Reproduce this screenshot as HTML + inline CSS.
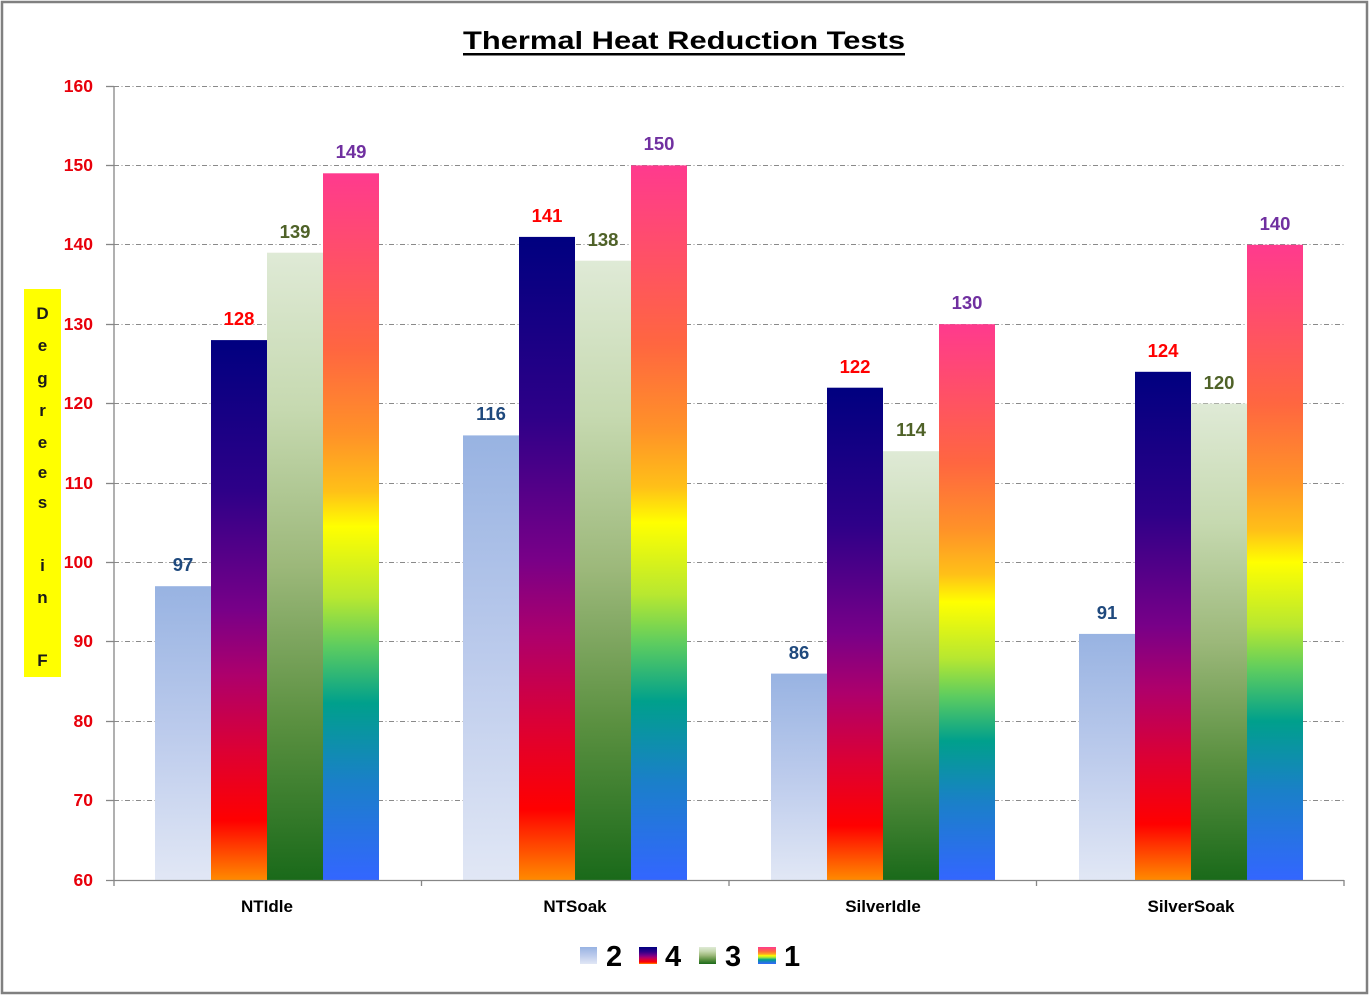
<!DOCTYPE html>
<html><head><meta charset="utf-8"><style>
html,body{margin:0;padding:0;background:#fff;}
svg{display:block;}
text{font-family:"Liberation Sans",Arial,sans-serif;font-weight:bold;}
</style></head><body>
<svg width="1369" height="995" viewBox="0 0 1369 995" xmlns="http://www.w3.org/2000/svg">
<defs>
<linearGradient id="g2" x1="0" y1="0" x2="0" y2="1">
<stop offset="0" stop-color="#98b3e2"/><stop offset="0.5" stop-color="#bccbec"/><stop offset="1" stop-color="#e1e7f5"/>
</linearGradient>
<linearGradient id="g4" x1="0" y1="0" x2="0" y2="1">
<stop offset="0" stop-color="#000080"/><stop offset="0.28" stop-color="#2e0088"/><stop offset="0.5" stop-color="#780088"/><stop offset="0.62" stop-color="#ad006c"/><stop offset="0.76" stop-color="#dc0034"/><stop offset="0.89" stop-color="#ff0000"/><stop offset="1" stop-color="#ff8a00"/>
</linearGradient>
<linearGradient id="g3" x1="0" y1="0" x2="0" y2="1">
<stop offset="0" stop-color="#dfead6"/><stop offset="0.25" stop-color="#c6d9b0"/><stop offset="0.5" stop-color="#9cb87a"/><stop offset="0.75" stop-color="#5a9040"/><stop offset="1" stop-color="#1a6a1a"/>
</linearGradient>
<linearGradient id="g1" x1="0" y1="0" x2="0" y2="1">
<stop offset="0" stop-color="#ff3a8e"/><stop offset="0.25" stop-color="#ff6640"/><stop offset="0.37" stop-color="#ff9228"/><stop offset="0.45" stop-color="#ffc018"/><stop offset="0.5" stop-color="#ffff00"/><stop offset="0.6" stop-color="#b8e830"/><stop offset="0.67" stop-color="#5ccc60"/><stop offset="0.75" stop-color="#00a08c"/><stop offset="0.86" stop-color="#1a80c8"/><stop offset="1" stop-color="#3366ff"/>
</linearGradient>
</defs>
<rect x="0" y="0" width="1369" height="995" fill="#fff"/>
<rect x="2" y="2" width="1365" height="991" fill="none" stroke="#808080" stroke-width="2.5"/>

<!-- title -->
<text x="684" y="49" font-size="25" text-anchor="middle" textLength="442" lengthAdjust="spacingAndGlyphs" fill="#000">Thermal Heat Reduction  Tests</text>
<rect x="463" y="53" width="442" height="2.5" fill="#000"/>

<!-- gridlines -->
<g stroke="#8a8a8a" stroke-width="1" stroke-dasharray="5 2.5 1 2.5">
<line x1="114" y1="86.5" x2="1344" y2="86.5"/>
<line x1="114" y1="165.5" x2="1344" y2="165.5"/>
<line x1="114" y1="244.5" x2="1344" y2="244.5"/>
<line x1="114" y1="324.5" x2="1344" y2="324.5"/>
<line x1="114" y1="403.5" x2="1344" y2="403.5"/>
<line x1="114" y1="483.5" x2="1344" y2="483.5"/>
<line x1="114" y1="562.5" x2="1344" y2="562.5"/>
<line x1="114" y1="641.5" x2="1344" y2="641.5"/>
<line x1="114" y1="721.5" x2="1344" y2="721.5"/>
<line x1="114" y1="800.5" x2="1344" y2="800.5"/>
</g>

<!-- bars -->
<rect x="155" y="586.2" width="56" height="293.8" fill="url(#g2)"/>
<rect x="211" y="340.1" width="56" height="539.9" fill="url(#g4)"/>
<rect x="267" y="252.7" width="56" height="627.3" fill="url(#g3)"/>
<rect x="323" y="173.3" width="56" height="706.7" fill="url(#g1)"/>

<rect x="463" y="435.4" width="56" height="444.6" fill="url(#g2)"/>
<rect x="519" y="236.9" width="56" height="643.1" fill="url(#g4)"/>
<rect x="575" y="260.7" width="56" height="619.3" fill="url(#g3)"/>
<rect x="631" y="165.4" width="56" height="714.6" fill="url(#g1)"/>

<rect x="771" y="673.6" width="56" height="206.4" fill="url(#g2)"/>
<rect x="827" y="387.7" width="56" height="492.3" fill="url(#g4)"/>
<rect x="883" y="451.2" width="56" height="428.8" fill="url(#g3)"/>
<rect x="939" y="324.2" width="56" height="555.8" fill="url(#g1)"/>

<rect x="1079" y="633.9" width="56" height="246.1" fill="url(#g2)"/>
<rect x="1135" y="371.8" width="56" height="508.2" fill="url(#g4)"/>
<rect x="1191" y="403.6" width="56" height="476.4" fill="url(#g3)"/>
<rect x="1247" y="244.8" width="56" height="635.2" fill="url(#g1)"/>

<!-- axes -->
<g stroke="#868686" stroke-width="1.3">
<line x1="114" y1="86" x2="114" y2="880"/>
<line x1="106" y1="880.5" x2="1344" y2="880.5"/>
<line x1="106" y1="86.5" x2="114" y2="86.5"/>
<line x1="106" y1="165.5" x2="114" y2="165.5"/>
<line x1="106" y1="244.5" x2="114" y2="244.5"/>
<line x1="106" y1="324.5" x2="114" y2="324.5"/>
<line x1="106" y1="403.5" x2="114" y2="403.5"/>
<line x1="106" y1="483.5" x2="114" y2="483.5"/>
<line x1="106" y1="562.5" x2="114" y2="562.5"/>
<line x1="106" y1="641.5" x2="114" y2="641.5"/>
<line x1="106" y1="721.5" x2="114" y2="721.5"/>
<line x1="106" y1="800.5" x2="114" y2="800.5"/>
<line x1="114" y1="880" x2="114" y2="886"/>
<line x1="421.5" y1="880" x2="421.5" y2="886"/>
<line x1="729" y1="880" x2="729" y2="886"/>
<line x1="1036.5" y1="880" x2="1036.5" y2="886"/>
<line x1="1344" y1="880" x2="1344" y2="886"/>
</g>

<!-- y tick labels -->
<g font-size="17.5" fill="#e8000b" text-anchor="end">
<text x="93" y="92">160</text>
<text x="93" y="171">150</text>
<text x="93" y="250">140</text>
<text x="93" y="330">130</text>
<text x="93" y="409">120</text>
<text x="93" y="489">110</text>
<text x="93" y="568">100</text>
<text x="93" y="647">90</text>
<text x="93" y="727">80</text>
<text x="93" y="806">70</text>
<text x="93" y="886">60</text>
</g>

<!-- y axis title -->
<rect x="24" y="289" width="37" height="388" fill="#ffff00"/>
<g font-size="17" fill="#1a1a1a" text-anchor="middle">
<text x="42.5" y="319">D</text>
<text x="42.5" y="351">e</text>
<text x="42.5" y="384">g</text>
<text x="42.5" y="416">r</text>
<text x="42.5" y="448">e</text>
<text x="42.5" y="478">e</text>
<text x="42.5" y="508">s</text>
<text x="42.5" y="571">i</text>
<text x="42.5" y="603">n</text>
<text x="42.5" y="666">F</text>
</g>

<!-- value labels -->
<g font-size="18.5" text-anchor="middle">
<text x="183" y="571" fill="#1f497d">97</text>
<text x="239" y="325" fill="#ff0000">128</text>
<text x="295" y="238" fill="#4f6228">139</text>
<text x="351" y="158" fill="#7030a0">149</text>

<text x="491" y="420" fill="#1f497d">116</text>
<text x="547" y="222" fill="#ff0000">141</text>
<text x="603" y="246" fill="#4f6228">138</text>
<text x="659" y="150" fill="#7030a0">150</text>

<text x="799" y="659" fill="#1f497d">86</text>
<text x="855" y="373" fill="#ff0000">122</text>
<text x="911" y="436" fill="#4f6228">114</text>
<text x="967" y="309" fill="#7030a0">130</text>

<text x="1107" y="619" fill="#1f497d">91</text>
<text x="1163" y="357" fill="#ff0000">124</text>
<text x="1219" y="389" fill="#4f6228">120</text>
<text x="1275" y="230" fill="#7030a0">140</text>
</g>

<!-- category labels -->
<g font-size="17" fill="#000" text-anchor="middle">
<text x="267" y="912">NTIdle</text>
<text x="575" y="912">NTSoak</text>
<text x="883" y="912">SilverIdle</text>
<text x="1191" y="912">SilverSoak</text>
</g>

<!-- legend -->
<rect x="580" y="947" width="17" height="17" fill="url(#g2)"/>
<text x="606" y="966" font-size="29" fill="#000">2</text>
<rect x="639" y="947" width="18" height="17" fill="url(#g4)"/>
<text x="665" y="966" font-size="29" fill="#000">4</text>
<rect x="699" y="947" width="17" height="17" fill="url(#g3)"/>
<text x="725" y="966" font-size="29" fill="#000">3</text>
<rect x="758" y="947" width="18" height="17" fill="url(#g1)"/>
<text x="784" y="966" font-size="29" fill="#000">1</text>
</svg>
</body></html>
